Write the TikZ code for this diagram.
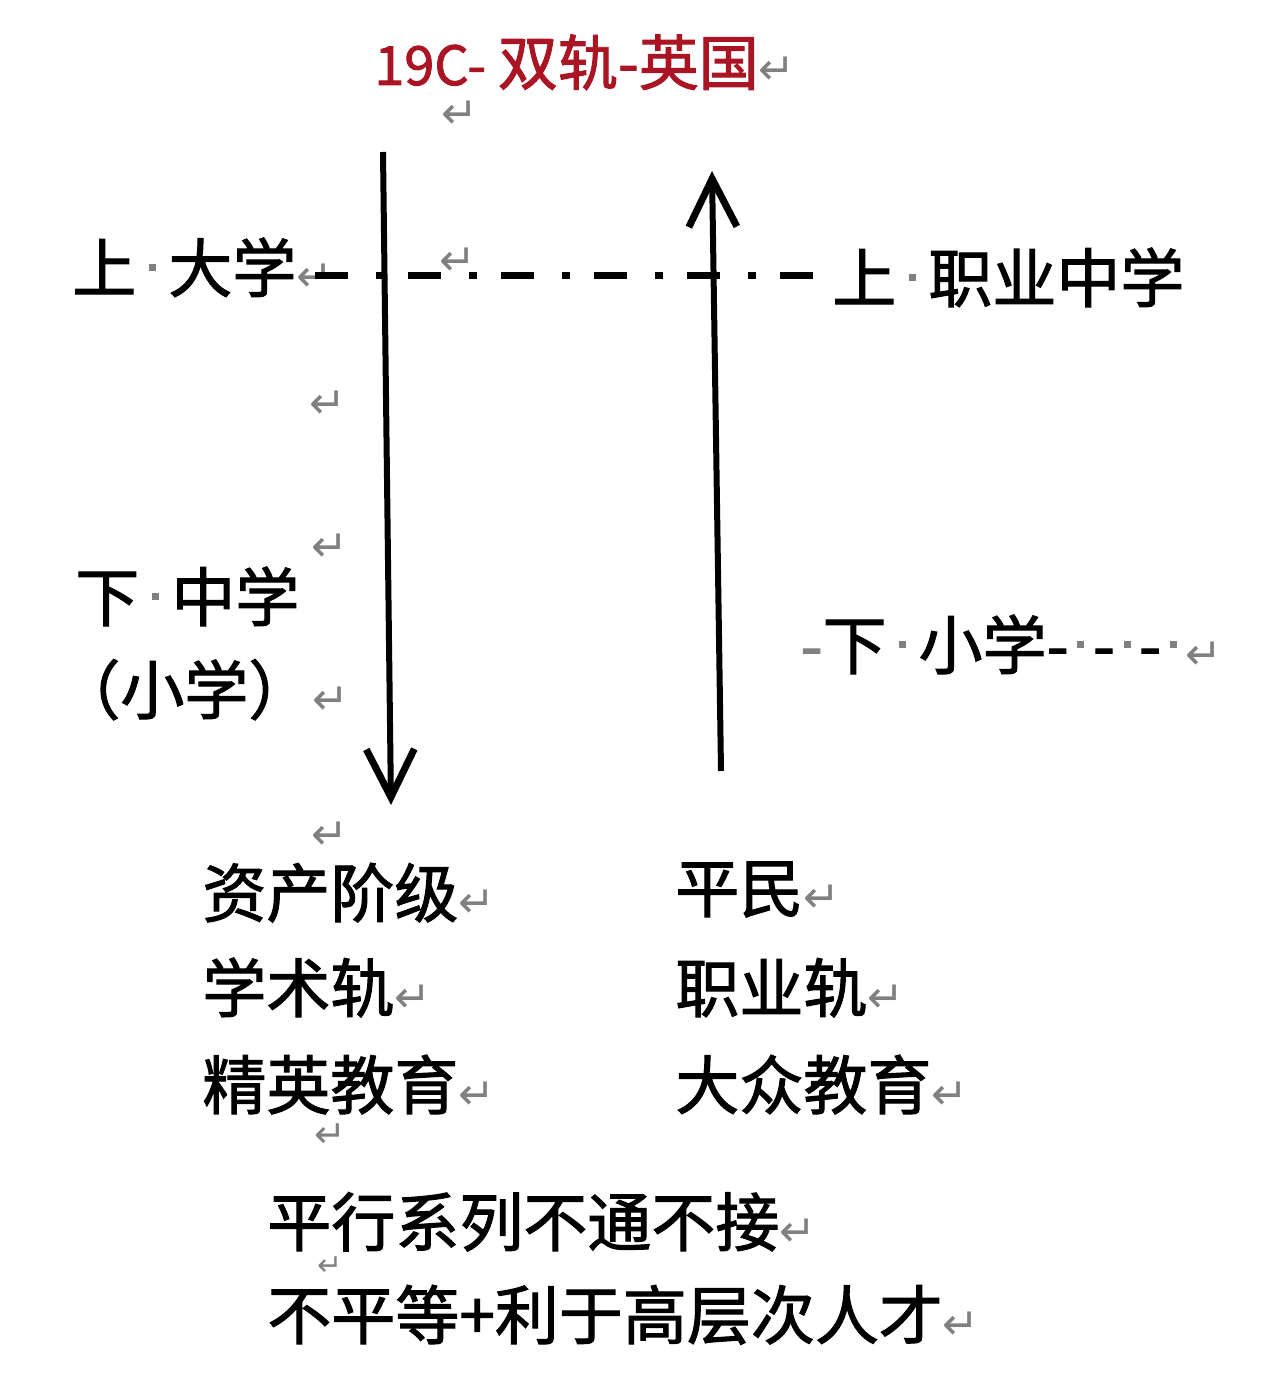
\documentclass[tikz,border=0pt]{standalone}
\usepackage{fontspec}
\usetikzlibrary{arrows.meta}
\newfontfamily\cjk{Noto Sans CJK SC}[FakeBold=1.6]
\newfontfamily\dejavu{DejaVu Sans}
\definecolor{titlered}{RGB}{170,20,35}
\definecolor{markgray}{RGB}{128,128,128}
\newcommand\wsp[1][16pt]{\makebox[#1][c]{\textcolor{markgray}{\rule[0.33em]{3.5pt}{3.5pt}}}}
\newcommand\parmk[1][22pt]{{\dejavu\fontsize{#1}{#1}\selectfont\textcolor{markgray}{↵}}}
\tikzset{
  txt/.style={anchor=base west, inner sep=0pt, font=\cjk\fontsize{32pt}{32pt}\selectfont},
  mk/.style={inner sep=0pt},
  track/.style={line width=3pt, -{Straight Barb[length=24pt,width=24pt,line width=3.5pt]}},
  boundary/.style={line width=3.5pt, dash pattern=on 16.5pt off 14pt on 4pt off 12pt}
}
\begin{document}
\begin{tikzpicture}[x=0.5pt,y=-0.5pt]
\useasboundingbox (0,0) rectangle (1280,1379);
% title
\node[anchor=base west, inner sep=0pt, font=\cjk\fontsize{30pt}{30pt}\selectfont, text=titlered] (title) at (374,85) {{\fontsize{27pt}{27pt}\selectfont 19C-}\hspace{6pt}双轨-英国\parmk};
\node[mk] (m0) at (460,115) {\parmk};
% tracks
\coordinate (ltop) at (383,152);
\coordinate (lbot) at (391,805);
\coordinate (rbot) at (721,771);
\coordinate (rtop) at (712,171);
\draw[track] (ltop) -- (lbot);
\draw[track] (rbot) -- (rtop);
% upper level
\node[txt] (uni) at (72,292) {上\wsp 大学\parmk};
\node[txt] (voc) at (832,302) {上\wsp 职业中学};
\coordinate (dl) at (315,276);
\coordinate (dr) at (815,276);
\draw[boundary] (dl) -- (dr);
\node[mk] (m1) at (458,262) {\parmk};
\node[mk] (m2) at (328,405) {\parmk};
\node[mk] (m3) at (330,548) {\parmk};
% lower level
\node[txt] (mid) at (75,621) {下\wsp 中学};
\node[txt] (pri) at (56,714) {（小学）\parmk};
\node[txt] (pri2) at (800,669) {\textcolor{markgray}{-}下\wsp 小学-\wsp[12pt]-\wsp[12pt]-\wsp[12pt]\parmk};
\node[mk] (m4) at (330,836) {\parmk};
% columns
\node[txt] (a1) at (202,917) {资产阶级\parmk};
\node[txt] (a2) at (202,1012) {学术轨\parmk};
\node[txt] (a3) at (202,1109) {精英教育\parmk};
\node[mk] (m5) at (330,1136) {\parmk[19pt]};
\node[txt] (b1) at (675,912) {平民\parmk};
\node[txt] (b2) at (675,1012) {职业轨\parmk};
\node[txt] (b3) at (675,1109) {大众教育\parmk};
% summary
\node[txt] (s1) at (267,1246) {平行系列不通不接\parmk};
\node[mk] (m6) at (330,1266) {\parmk[15pt]};
\node[txt] (s2) at (267,1339) {不平等+利于高层次人才\parmk};
\end{tikzpicture}
\end{document}
